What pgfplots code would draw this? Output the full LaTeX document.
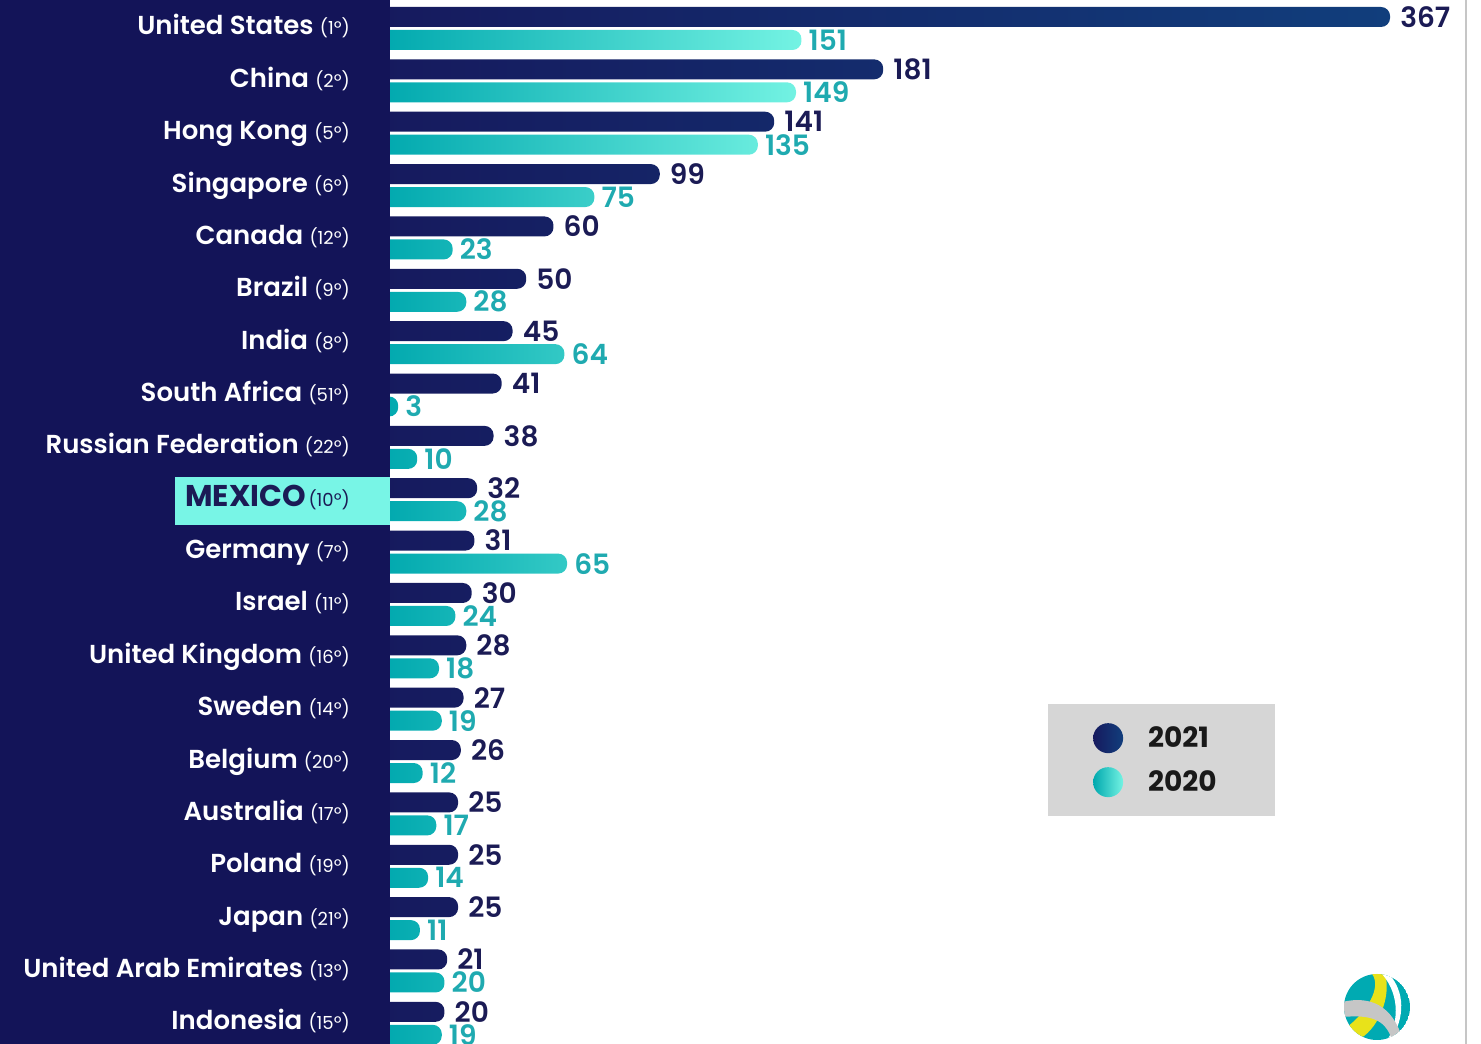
\documentclass[border=0pt]{standalone}
\usepackage{pgfplots}
\pgfplotsset{compat=1.18}
\usepackage{pgfplotstable}
\usepackage{fontspec}
\setmainfont{Poppins}[BoldFont={Poppins SemiBold}]
\newfontfamily\heavy{Poppins Bold}
\definecolor{panel}{HTML}{131458}
\definecolor{barA}{HTML}{161A5E}
\definecolor{barB}{HTML}{113E7C}
\definecolor{tealA}{HTML}{00A8AE}
\definecolor{tealB}{HTML}{74F3E3}
\definecolor{lab21}{HTML}{1B1B55}
\definecolor{lab20}{HTML}{1FAAB0}
\definecolor{mexbox}{HTML}{78F5E6}
\definecolor{lgray}{HTML}{D6D6D6}
\definecolor{logoteal}{HTML}{00AAB2}
\definecolor{logoyel}{HTML}{E8E21A}
\pgfplotstableread[col sep=comma]{
idx,v21,v20
0,367,151
1,181,149
2,141,135
3,99,75
4,60,23
5,50,28
6,45,64
7,41,3
8,38,10
9,32,28
10,31,65
11,30,24
12,28,18
13,27,19
14,26,12
15,25,17
16,25,14
17,25,11
18,21,20
19,20,19
}\data
\newcommand\labfont{\fontsize{26}{26}\selectfont\bfseries}
\newcommand\rk[1]{{\fontsize{18}{18}\selectfont\mdseries(#1º)}}
\begin{document}
\begin{tikzpicture}
\useasboundingbox (0,0) rectangle (1481pt,1044pt);
\clip (0,0) rectangle (1481pt,1044pt);
\begin{axis}[
  at={(0,0)}, anchor=south west,
  scale only axis, width=1481pt, height=1044pt,
  xmin=-139.45, xmax=404.04, ymin=-1044, ymax=0,
  axis lines=none,
  /pgf/number format/assume math mode=true,
  clip=true,
  legend style={at={(0.7076,0.3257)}, anchor=north west, fill=lgray, draw=none,
    inner xsep=45pt, inner ysep=19pt, row sep=14pt, column sep=23pt,
    font=\fontsize{28}{28}\selectfont\heavy, text=black!90},
  legend cell align=left,
]
\addplot[xbar, bar shift=0pt, bar width=20pt, draw=none, left color=barA, right color=barB,
  rounded corners=9pt,
  nodes near coords, point meta=explicit,
  nodes near coords style={anchor=west, inner sep=0pt, xshift=10pt, text=lab21,
    font=\fontsize{28}{28}\selectfont\bfseries},
  legend image code/.code={\shade[left color=barA, right color=barB] (15pt,0pt) circle (15pt);}]
  table[x expr=\thisrow{v21}+3.67, y expr=-(17+52.36*\thisrow{idx}), meta=v21] {\data};
\addlegendentry{\makebox[80pt][l]{2021}}
\addplot[xbar, bar shift=0pt, bar width=20pt, draw=none, left color=tealA, right color=tealB,
  rounded corners=9pt,
  nodes near coords, point meta=explicit,
  nodes near coords style={anchor=west, inner sep=0pt, xshift=7pt, text=lab20,
    font=\fontsize{28}{28}\selectfont\bfseries},
  legend image code/.code={\shade[left color=tealA, right color=tealB] (15pt,0pt) circle (15pt);}]
  table[x expr=\thisrow{v20}+3.67, y expr=-(40+52.36*\thisrow{idx}), meta=v20] {\data};
\addlegendentry{\makebox[80pt][l]{2020}}
\end{axis}
% left panel
\fill[panel] (0,0) rectangle (390pt,1044pt);
% Mexico highlight
\fill[mexbox] (175pt,519pt) rectangle (390pt,567pt);
\foreach \n/\r [count=\i from 0] in {United States/1, China/2, Hong Kong/5, Singapore/6, Canada/12, Brazil/9, India/8, South Africa/51, Russian Federation/22, {}/10, Germany/7, Israel/11, United Kingdom/16, Sweden/14, Belgium/20, Australia/17, Poland/19, Japan/21, United Arab Emirates/13, Indonesia/15}{
  \pgfmathsetmacro\yy{1044-(26+52.36*\i)-9}
  \ifnum\i=9\relax
    \node[anchor=base east, inner sep=0pt, text=lab21] at (350pt,\yy pt)
      {{\fontsize{30}{30}\selectfont\heavy MEXICO}\ \rk{\r}};
  \else
    \node[anchor=base east, inner sep=0pt, text=white] at (350pt,\yy pt)
      {\labfont\n\ \rk{\r}};
  \fi
}
% right border
\draw[gray!45, line width=1.2pt] (1466pt,0) -- (1466pt,1044pt);
% logo
\begin{scope}[shift={(1377pt,37pt)}]
  \begin{scope}
    \clip (0,0) circle (33pt);
    \fill[logoteal] (0,0) circle (33pt);
    \fill[logoyel] (-30pt,-20pt) .. controls (-10pt,-5pt) and (5pt,20pt) .. (-5pt,33pt)
       -- (8pt,33pt) .. controls (15pt,10pt) and (0pt,-25pt) .. (-20pt,-33pt) -- cycle;
    \fill[white] (5pt,33pt) .. controls (25pt,10pt) and (20pt,-20pt) .. (10pt,-33pt)
       -- (14pt,-33pt) .. controls (28pt,-10pt) and (28pt,15pt) .. (12pt,33pt) -- cycle;
    \fill[gray!45] (-35pt,5pt) .. controls (-5pt,12pt) and (15pt,0pt) .. (25pt,-30pt)
       -- (15pt,-33pt) .. controls (8pt,-10pt) and (-10pt,-8pt) .. (-35pt,-10pt) -- cycle;
  \end{scope}
\end{scope}
\end{tikzpicture}
\end{document}
